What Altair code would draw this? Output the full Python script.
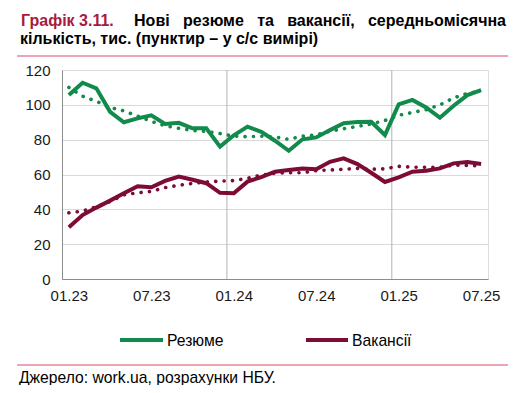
import altair as alt
import pandas as pd

months = ["01.23","02.23","03.23","04.23","05.23","06.23","07.23","08.23","09.23","10.23","11.23","12.23",
          "01.24","02.24","03.24","04.24","05.24","06.24","07.24","08.24","09.24","10.24","11.24","12.24",
          "01.25","02.25","03.25","04.25","05.25","06.25","07.25"]
tick_labels = ["01.23","07.23","01.24","07.24","01.25","07.25"]

resume = [105.6, 112.7, 109.5, 96, 90, 92.2, 94, 89, 89.7, 86.5, 86.5, 76, 82.5, 87.5, 84.5, 79.4,
          73.6, 80.2, 81.3, 85.5, 89.4, 90.1, 90.3, 82.7, 100.3, 102.8, 98.5, 92.6, 99.5, 105.6, 108.5]
resume_sa = [110, 105, 102, 98.5, 96.5, 93.5, 90.5, 88, 86.5, 85.3, 84.7, 83.5, 82, 81.7, 82, 81.5,
             80.2, 82, 82.8, 84.8, 86.3, 87.6, 89, 91, 94, 95.6, 97.2, 100, 104, 106.5, 108]
vacancies = [29.7, 36.7, 41, 45, 49.2, 53.3, 52.7, 56.3, 58.8, 57, 55, 49.5, 49.2, 55.9, 58.5, 61.6,
             62.6, 63.5, 63, 67.3, 69.3, 66, 61, 55.7, 58.4, 61.6, 62.2, 63.5, 66.4, 67.2, 66]
vacancies_sa = [38, 39, 41.5, 44.5, 48.3, 49.5, 50.3, 52.5, 53.8, 54.9, 55.7, 56.2, 56.5, 57.8, 59.7, 60.7,
                61, 61, 62.2, 62.6, 63, 63.5, 63, 63.3, 64.7, 64.2, 64.1, 64.1, 65.4, 65.2, 64.9]

series_names = ["Резюме", "Вакансії"]
series_colors = ["#128A4B", "#7C0C36"]

rows = []
for name, act, sa in [(series_names[0], resume, resume_sa), (series_names[1], vacancies, vacancies_sa)]:
    for i, m in enumerate(months):
        rows.append({"idx": i, "month": m, "series": name, "kind": "actual", "value": act[i]})
        rows.append({"idx": i, "month": m, "series": name, "kind": "sa", "value": sa[i]})
df = pd.DataFrame(rows)

label_expr = "[" + ",".join("'%s'" % t for t in tick_labels) + "][datum.value / 6]"

W, H = 426, 209
FONT = "Liberation Sans"

color_scale = alt.Scale(domain=series_names, range=series_colors)
x_enc = alt.X("idx:Q", scale=alt.Scale(domain=[-0.5, len(months) - 0.5], nice=False, zero=False),
              axis=alt.Axis(values=[months.index(t) for t in tick_labels], labelExpr=label_expr,
                            grid=False, ticks=False, domainColor="#8c8c8c", labelFontSize=15,
                            labelColor="#1a1a1a", labelPadding=9, title=None, labelFont=FONT))
y_enc = alt.Y("value:Q", scale=alt.Scale(domain=[0, 120], nice=False),
              axis=alt.Axis(values=[0, 20, 40, 60, 80, 100, 120], grid=True, gridColor="#d9d9d9",
                            ticks=False, domainColor="#8c8c8c", labelFontSize=15, labelColor="#1a1a1a",
                            labelPadding=12, title=None, labelFont=FONT))

base = alt.Chart(df)
dotted = base.transform_filter(alt.datum.kind == "sa").mark_line(
    strokeWidth=3.6, strokeDash=[0.1, 8.3], strokeCap="round").encode(
    x=x_enc, y=y_enc, color=alt.Color("series:N", scale=color_scale, legend=None), detail="series:N")
solid = base.transform_filter(alt.datum.kind == "actual").mark_line(
    strokeWidth=4, strokeJoin="miter").encode(
    x=x_enc, y=y_enc, color=alt.Color("series:N", scale=color_scale, legend=None), detail="series:N")

breaks = pd.DataFrame({"b": [i - 0.5 for i, m in enumerate(months) if m.startswith("01") and i > 0]})
vrules = alt.Chart(breaks).mark_rule(color="#b3b3b3", strokeWidth=1).encode(
    x=alt.X("b:Q", scale=alt.Scale(domain=[-0.5, len(months) - 0.5], nice=False, zero=False)))

def text_layer(txt, x, y, size, color="#000000", bold=False, align="left"):
    return alt.Chart(pd.DataFrame({"t": [txt]})).mark_text(
        font=FONT, fontSize=size, fontWeight="bold" if bold else "normal", color=color,
        align=align, baseline="alphabetic").encode(text="t:N", x=alt.value(x), y=alt.value(y))

def hrule(x1, x2, y, color, width):
    return alt.Chart(pd.DataFrame({"k": [0]})).mark_rule(color=color, strokeWidth=width).encode(
        x=alt.value(x1), x2=alt.value(x2), y=alt.value(y))

title_red = "#A8193E"
TS = 16
NB = "\u00a0"
title_label = "Графік" + NB + "3.11."
title_rest = (NB * 3).join(["Нові", "резюме", "та", "вакансії,", "середньомісячна"])
title_layers = [text_layer(title_label, 21 - 62, 26 - 70, TS, title_red, True),
                text_layer(title_rest, 506 - 62, 26 - 70, TS, "#000", True, "right"),
                text_layer("кількість, тис. (пунктир – у с/с вимірі)", 20 - 62, 44 - 70, TS, "#000", True)]

pink = "#DC4A6A"
LS = 15.7
decor = [hrule(17 - 62, 508 - 62, -14, pink, 1.2), hrule(17 - 62, 508 - 62, 295, pink, 1.2),
         hrule(120 - 62, 163 - 62, 270, series_colors[0], 4),
         text_layer(series_names[0], 167 - 62, 276, LS),
         hrule(306 - 62, 348 - 62, 270, series_colors[1], 4),
         text_layer(series_names[1], 352 - 62, 276, LS),
         text_layer("Джерело: work.ua, розрахунки НБУ.", 19 - 62, 313, LS)]

chart = alt.layer(vrules, dotted, solid, *title_layers, *decor).properties(
    width=W, height=H, autosize=alt.AutoSizeParams(type="none"),
    padding={"left": 54, "top": 62, "right": 25, "bottom": 106}
).configure_view(stroke="#a6a6a6", strokeWidth=1).configure(font=FONT, background="white")

chart.save("out.html", embed_options={"renderer": "svg", "actions": False})
